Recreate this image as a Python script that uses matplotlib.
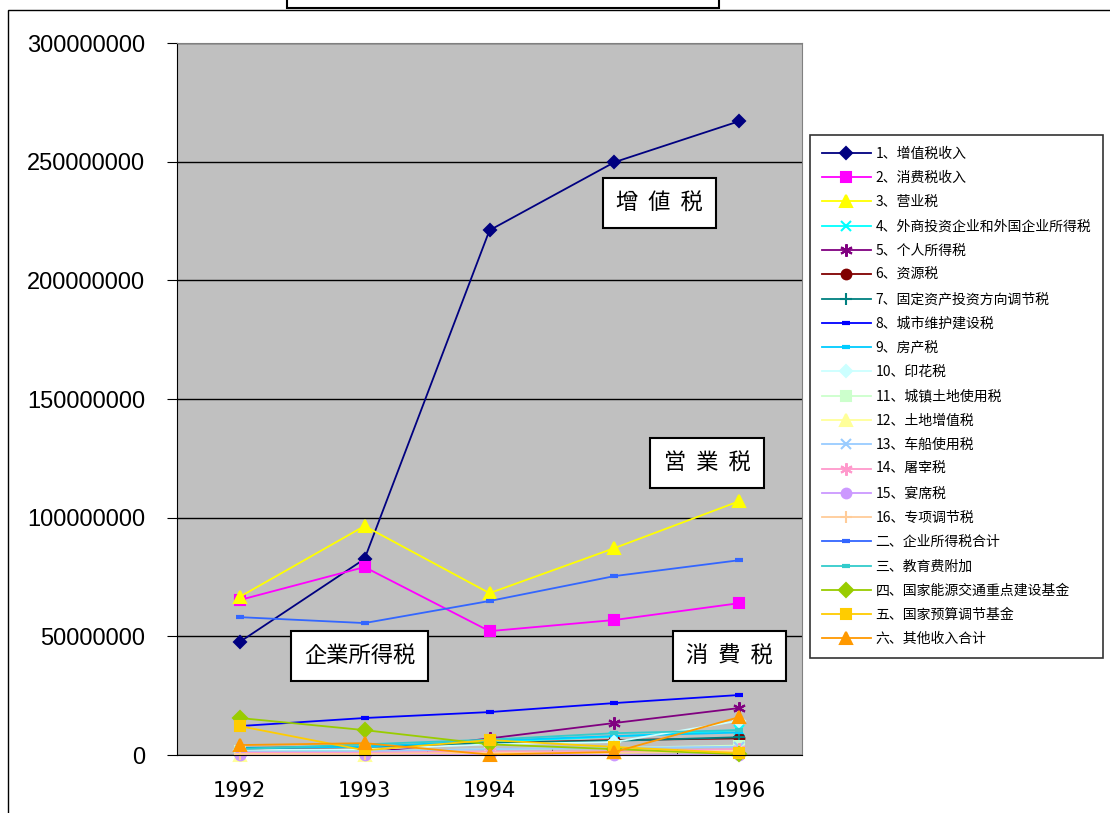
from __future__ import annotations

import matplotlib

matplotlib.use("Agg")
import matplotlib.pyplot as plt
from matplotlib.patches import Rectangle
from matplotlib.ticker import FuncFormatter, MultipleLocator

plt.rcParams["font.family"] = ["Noto Sans CJK SC", "DejaVu Sans"]

years = ["1992", "1993", "1994", "1995", "1996"]

# values in millions (yuan units as on the chart, divided by 1e6)
vat = [47.6, 82.6, 221.1, 249.8, 267.1]
consumption_tax = [65.3, 79.2, 52.2, 56.9, 64.0]
business_tax = [66.6, 96.5, 68.2, 87.2, 107.0]
foreign_enterprise_tax = [1.5, 2.5, 5.5, 7.8, 10.5]
personal_income_tax = [1.0, 0.8, 7.0, 13.5, 19.8]
resource_tax = [2.5, 2.5, 5.0, 6.3, 7.0]
fixed_asset_tax = [3.0, 3.5, 5.0, 6.0, 7.5]
urban_maintenance_tax = [12.2, 15.6, 18.1, 21.9, 25.3]
property_tax = [2.8, 3.5, 6.0, 8.0, 9.5]
stamp_tax = [2.0, 2.5, 4.5, 5.5, 14.5]
urban_land_tax = [1.5, 1.5, 2.5, 3.0, 4.0]
land_vat = [0.0, 0.0, 0.5, 1.0, 2.0]
vehicle_tax = [1.5, 1.5, 2.5, 3.0, 3.5]
slaughter_tax = [1.0, 1.0, 1.5, 1.5, 2.5]
banquet_tax = [0.0, 0.0, 0.0, 0.0, 0.0]
special_adjustment_tax = [0.5, 0.5, 1.0, 1.0, 1.5]
enterprise_income_total = [58.1, 55.6, 64.9, 75.4, 82.1]
education_surcharge = [2.5, 4.5, 6.5, 9.2, 10.5]
energy_fund = [15.6, 10.5, 4.5, 2.5, 0.3]
budget_fund = [12.2, 2.0, 6.3, 3.4, 0.8]
other_income = [4.2, 5.0, 0.2, 1.3, 16.0]

series_names = [
    "1、增值税收入", "2、消费税收入", "3、营业税", "4、外商投资企业和外国企业所得税",
    "5、个人所得税", "6、资源税", "7、固定资产投资方向调节税", "8、城市维护建设税",
    "9、房产税", "10、印花税", "11、城镇土地使用税", "12、土地增值税",
    "13、车船使用税", "14、屠宰税", "15、宴席税", "16、专项调节税",
    "二、企业所得税合计", "三、教育费附加", "四、国家能源交通重点建设基金",
    "五、国家预算调节基金", "六、其他收入合计",
]
series_values = [
    vat, consumption_tax, business_tax, foreign_enterprise_tax,
    personal_income_tax, resource_tax, fixed_asset_tax, urban_maintenance_tax,
    property_tax, stamp_tax, urban_land_tax, land_vat,
    vehicle_tax, slaughter_tax, banquet_tax, special_adjustment_tax,
    enterprise_income_total, education_surcharge, energy_fund,
    budget_fund, other_income,
]

ASTERISK = (6, 2, 0)
styles = [
    ("#000080", "D", 6), ("#FF00FF", "s", 7), ("#FFFF00", "^", 8), ("#00FFFF", "x", 7),
    ("#800080", ASTERISK, 9), ("#800000", "o", 7), ("#008080", "+", 8), ("#0000FF", "_", 6),
    ("#00CCFF", "_", 6), ("#CCFFFF", "D", 6), ("#CCFFCC", "s", 7), ("#FFFF99", "^", 8),
    ("#99CCFF", "x", 7), ("#FF99CC", ASTERISK, 9), ("#CC99FF", "o", 7), ("#FFCC99", "+", 8),
    ("#3366FF", "_", 6), ("#33CCCC", "_", 6), ("#99CC00", "D", 7),
    ("#FFCC00", "s", 7), ("#FF9900", "^", 8),
]

box_labels = ["增  値  税", "営  業  税", "企業所得税", "消  費  税"]
box_x = [3.36, 3.74, 0.96, 3.92]
box_y = [232.5, 123.0, 41.7, 41.7]


def main() -> int:
    fig = plt.figure(figsize=(11.1, 8.13), dpi=100)
    ax = fig.add_axes([0.1595, 0.0713, 0.563, 0.8758])
    ax.set_facecolor("#C0C0C0")

    x = range(len(years))
    for name, vals, (color, marker, ms) in zip(series_names, series_values, styles):
        ax.plot(x, [v * 1e6 for v in vals], color=color, lw=1.3, marker=marker,
                markersize=ms, markeredgewidth=1.5 if marker != "_" else 3,
                markeredgecolor=color, markerfacecolor=color, label=name, clip_on=False)

    ax.set_xlim(-0.5, 4.5)
    ax.set_ylim(0, 300e6)
    ax.yaxis.set_major_locator(MultipleLocator(50e6))
    ax.yaxis.set_major_formatter(FuncFormatter(lambda v, _: f"{int(round(v))}"))
    ax.grid(axis="y", color="black", lw=1)
    ax.set_axisbelow(True)

    ax.set_xticks(list(x))
    ax.set_xticklabels(years, family=["DejaVu Sans"], fontsize=15)
    ax.set_xticks([i + 0.5 for i in range(len(years) - 1)], minor=True)
    ax.tick_params(axis="x", which="major", length=0, pad=19)
    ax.tick_params(axis="x", which="minor", length=4, direction="in", color="black")
    ax.tick_params(axis="y", length=7, direction="out", pad=16)
    for lab in ax.get_yticklabels():
        lab.set_family(["Liberation Sans", "DejaVu Sans"])
        lab.set_fontsize(17)

    ax.spines["left"].set_color("black")
    ax.spines["bottom"].set_color("black")
    ax.spines["top"].set_color("#808080")
    ax.spines["right"].set_color("#808080")

    for text, bx, by in zip(box_labels, box_x, box_y):
        ax.text(bx, by * 1e6, text, ha="center", va="center", fontsize=16,
                family=["Noto Sans CJK JP", "DejaVu Sans"], zorder=5,
                bbox=dict(boxstyle="square,pad=0.6", facecolor="white",
                          edgecolor="black", lw=1.5))

    leg = ax.legend(loc="upper right", bbox_to_anchor=(1103 / 1110, 0.834),
                    bbox_transform=fig.transFigure, fontsize=10.0, frameon=True,
                    fancybox=False, handlelength=3.5, labelspacing=0.74,
                    borderpad=0.85, handletextpad=0.35, borderaxespad=0)
    leg.get_frame().set_edgecolor("black")
    leg.get_frame().set_linewidth(1.2)

    # chart frame and title box edges, cut off by the figure bounds
    fig.add_artist(Rectangle((8 / 1110, -0.05), 1.1, 1 - 10 / 813 + 0.05,
                             transform=fig.transFigure, facecolor="none",
                             edgecolor="black", lw=1))
    fig.add_artist(Rectangle((287 / 1110, 1 - 8 / 813), 432 / 1110, 0.05,
                             transform=fig.transFigure, facecolor="white",
                             edgecolor="black", lw=1.5))

    fig.savefig("out.png", dpi=100)
    plt.close(fig)
    return 0


if __name__ == "__main__":
    raise SystemExit(main())
